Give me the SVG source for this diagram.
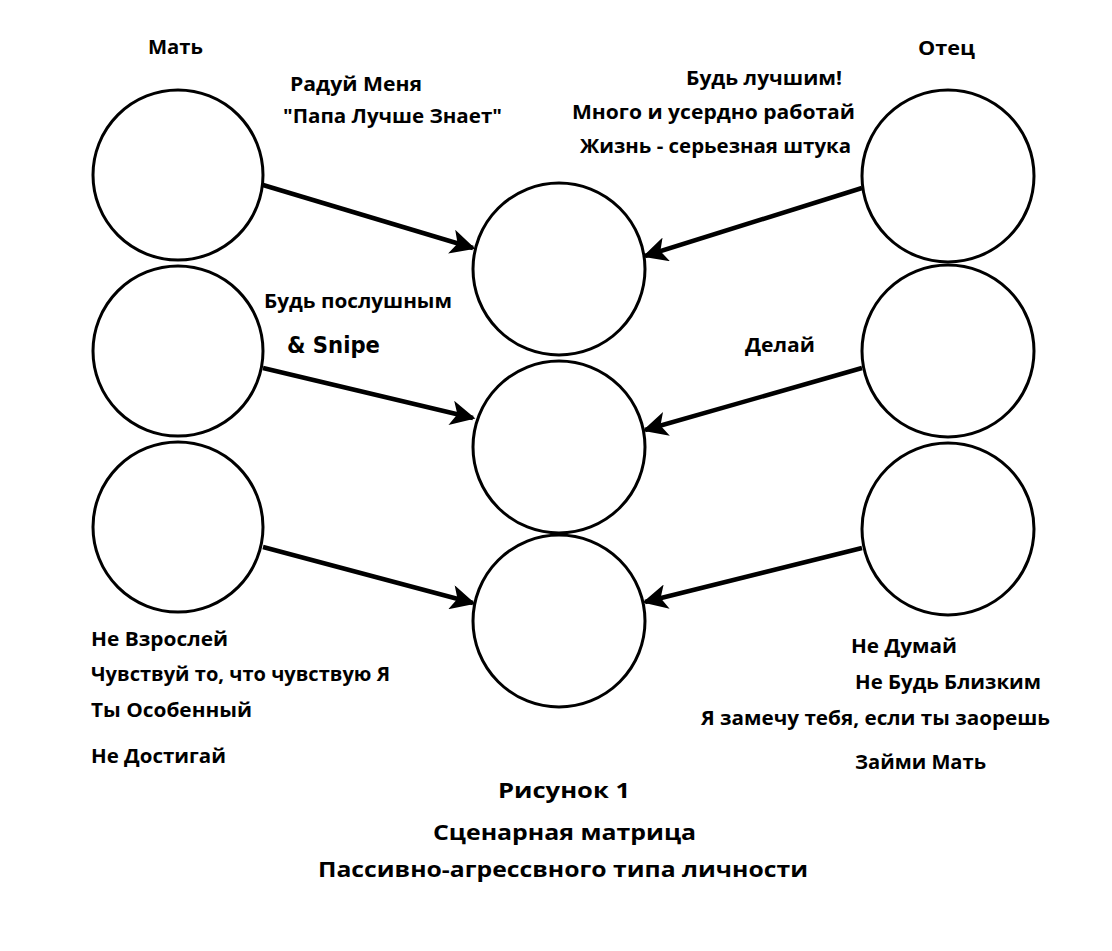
<svg xmlns="http://www.w3.org/2000/svg" width="1112" height="951" viewBox="0 0 1112 951">
<defs>
<style>
.c{fill:none;stroke:#000;stroke-width:3}
.a{stroke:#000;stroke-width:4.5;fill:none;marker-end:url(#ah)}
text{font-family:"Open Sans","Noto Sans","Liberation Sans",sans-serif;font-weight:700;font-size:19px;fill:#000}
.t{font-size:22px}
.s{font-family:"DejaVu Sans Condensed","DejaVu Sans",sans-serif;font-size:23px}
</style>
<marker id="ah" viewBox="0 0 10 10" refX="9" refY="5" markerWidth="7" markerHeight="5.5" markerUnits="strokeWidth" orient="auto">
<path d="M0,0 L10,5 L0,10 L2.5,5 Z" fill="#000"/>
</marker>
</defs>
<rect width="1112" height="951" fill="#fff"/>
<g id="mother1"><circle class="c" cx="178" cy="175" r="85"/></g>
<g id="mother2"><circle class="c" cx="178" cy="351" r="85"/></g>
<g id="mother3"><circle class="c" cx="178" cy="527" r="85"/></g>
<g id="child1"><circle class="c" cx="559" cy="269" r="86"/></g>
<g id="child2"><circle class="c" cx="559" cy="447" r="86"/></g>
<g id="child3"><circle class="c" cx="559" cy="621" r="86"/></g>
<g id="father1"><circle class="c" cx="948" cy="176" r="86"/></g>
<g id="father2"><circle class="c" cx="948" cy="351" r="86"/></g>
<g id="father3"><circle class="c" cx="948" cy="529" r="86"/></g>
<g id="connectors">
<line class="a" x1="263" y1="185" x2="473" y2="248"/>
<line class="a" x1="263" y1="368" x2="473" y2="418"/>
<line class="a" x1="263" y1="547" x2="473" y2="603"/>
<line class="a" x1="862" y1="188" x2="645" y2="256"/>
<line class="a" x1="862" y1="368" x2="645" y2="430"/>
<line class="a" x1="862" y1="548" x2="645" y2="602"/>
</g>
<g id="labels">
<text x="148" y="54" textLength="55" lengthAdjust="spacingAndGlyphs">Мать</text>
<text x="290" y="91" textLength="132" lengthAdjust="spacingAndGlyphs">Радуй Меня</text>
<text x="283" y="123" textLength="219" lengthAdjust="spacingAndGlyphs">"Папа Лучше Знает"</text>
<text x="918" y="55" textLength="57" lengthAdjust="spacingAndGlyphs">Отец</text>
<text x="686" y="85" textLength="156" lengthAdjust="spacingAndGlyphs">Будь лучшим!</text>
<text x="572" y="119" textLength="283" lengthAdjust="spacingAndGlyphs">Много и усердно работай</text>
<text x="580" y="153" textLength="271" lengthAdjust="spacingAndGlyphs">Жизнь - серьезная штука</text>
<text x="264" y="308" textLength="188" lengthAdjust="spacingAndGlyphs">Будь послушным</text>
<text class="s" x="287" y="353" textLength="93" lengthAdjust="spacingAndGlyphs">&amp; Snipe</text>
<text x="745" y="352" textLength="70" lengthAdjust="spacingAndGlyphs">Делай</text>
<text x="91" y="646" textLength="137" lengthAdjust="spacingAndGlyphs">Не Взрослей</text>
<text x="91" y="681" textLength="299" lengthAdjust="spacingAndGlyphs">Чувствуй то, что чувствую Я</text>
<text x="91" y="717" textLength="161" lengthAdjust="spacingAndGlyphs">Ты Особенный</text>
<text x="91" y="763" textLength="135" lengthAdjust="spacingAndGlyphs">Не Достигай</text>
<text x="851" y="653" textLength="106" lengthAdjust="spacingAndGlyphs">Не Думай</text>
<text x="855" y="689" textLength="186" lengthAdjust="spacingAndGlyphs">Не Будь Близким</text>
<text x="701" y="725" textLength="349" lengthAdjust="spacingAndGlyphs">Я замечу тебя, если ты заорешь</text>
<text x="855" y="769" textLength="131" lengthAdjust="spacingAndGlyphs">Займи Мать</text>
<text class="t" x="498" y="798" textLength="132" lengthAdjust="spacingAndGlyphs">Рисунок 1</text>
<text class="t" x="433" y="840" textLength="263" lengthAdjust="spacingAndGlyphs">Сценарная матрица</text>
<text class="t" x="318" y="877" textLength="490" lengthAdjust="spacingAndGlyphs">Пассивно-агрессвного типа личности</text>
</g>
</svg>
